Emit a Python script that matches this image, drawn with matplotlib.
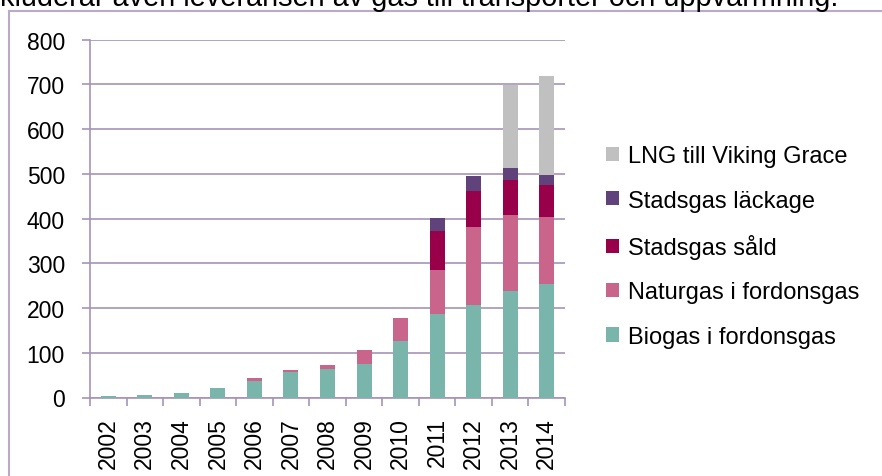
import matplotlib
matplotlib.use("Agg")
import matplotlib.pyplot as plt
from matplotlib.lines import Line2D
from matplotlib.patches import Patch
import numpy as np

years = ["2002", "2003", "2004", "2005", "2006", "2007", "2008",
         "2009", "2010", "2011", "2012", "2013", "2014"]
biogas = [3, 5, 10, 21, 38, 58, 63, 74, 126, 187, 206, 238, 253]
naturgas = [0, 0, 0, 0, 5, 4, 10, 33, 51, 98, 175, 170, 150]
stadsgas_sald = [0, 0, 0, 0, 0, 0, 0, 0, 0, 87, 81, 78, 72]
stadsgas_lackage = [0, 0, 0, 0, 0, 0, 0, 0, 0, 29, 33, 27, 22]
lng_viking = [0, 0, 0, 0, 0, 0, 0, 0, 0, 0, 0, 186, 221]

series_names = ["Biogas i fordonsgas", "Naturgas i fordonsgas", "Stadsgas såld",
                "Stadsgas läckage", "LNG till Viking Grace"]
series_colors = ["#7AB5AC", "#C9658A", "#98004A", "#5F437A", "#C0C0C0"]
yticks = [0, 100, 200, 300, 400, 500, 600, 700, 800]
header_text = "kluderar även leveransen av gas till transporter och uppvärmning."

plt.rcParams['font.family'] = ['Liberation Sans', 'DejaVu Sans']
grid_col = "#A593BA"

fig = plt.figure(figsize=(8.82, 4.77), dpi=100)
ax = fig.add_axes([90/882, 1-398.5/477, (565-90)/882, (398.5-40.7)/477])

x = np.arange(len(years))
bottom = np.zeros(len(years))
handles = []
for vals, name, col in zip([biogas, naturgas, stadsgas_sald, stadsgas_lackage, lng_viking],
                           series_names, series_colors):
    ax.bar(x, vals, width=0.41, bottom=bottom, color=col, zorder=3, linewidth=0)
    bottom += np.array(vals)
    handles.append(Patch(facecolor=col, label=name))

ax.set_xlim(-0.5, len(years) - 0.5)
ax.set_ylim(0, 800)
ax.set_yticks(yticks)
ax.set_yticklabels([str(v) for v in yticks])
ax.yaxis.grid(True, color=grid_col, linewidth=1.2, zorder=0)
ax.set_axisbelow(True)

ax.set_xticks(x)
ax.set_xticklabels(years, rotation=90)
ax.set_xticks(np.arange(-0.5, len(years)), minor=True)
ax.tick_params(axis='x', which='major', length=0, pad=14, labelsize=16.5)
ax.tick_params(axis='x', which='minor', length=6, width=1.2, color=grid_col, direction='out')
ax.tick_params(axis='y', length=6, width=1.2, color=grid_col, pad=12, labelsize=16.5)

for s in ['top', 'right']:
    ax.spines[s].set_visible(False)
for s in ['left', 'bottom']:
    ax.spines[s].set_color(grid_col)
    ax.spines[s].set_linewidth(1.2)

leg = fig.legend(handles=handles[::-1], loc='center left',
                 bbox_to_anchor=(606/882, 1-247.5/477), frameon=False,
                 fontsize=17, handlelength=0.55, handleheight=0.55,
                 handletextpad=0.4, labelspacing=0.95, borderpad=0, borderaxespad=0)

# frame of the surrounding document box
fig.add_artist(Line2D([8.5/882, 8.5/882], [0, 1-12/477], color="#B9AACB", linewidth=1.5))
fig.add_artist(Line2D([8.5/882, 1], [1-12/477, 1-12/477], color="#B9AACB", linewidth=1.5))

fig.text(0, 1-5.5/477, header_text, fontsize=20.8, va='baseline', ha='left', color='black')

fig.savefig("out.png", dpi=100)
